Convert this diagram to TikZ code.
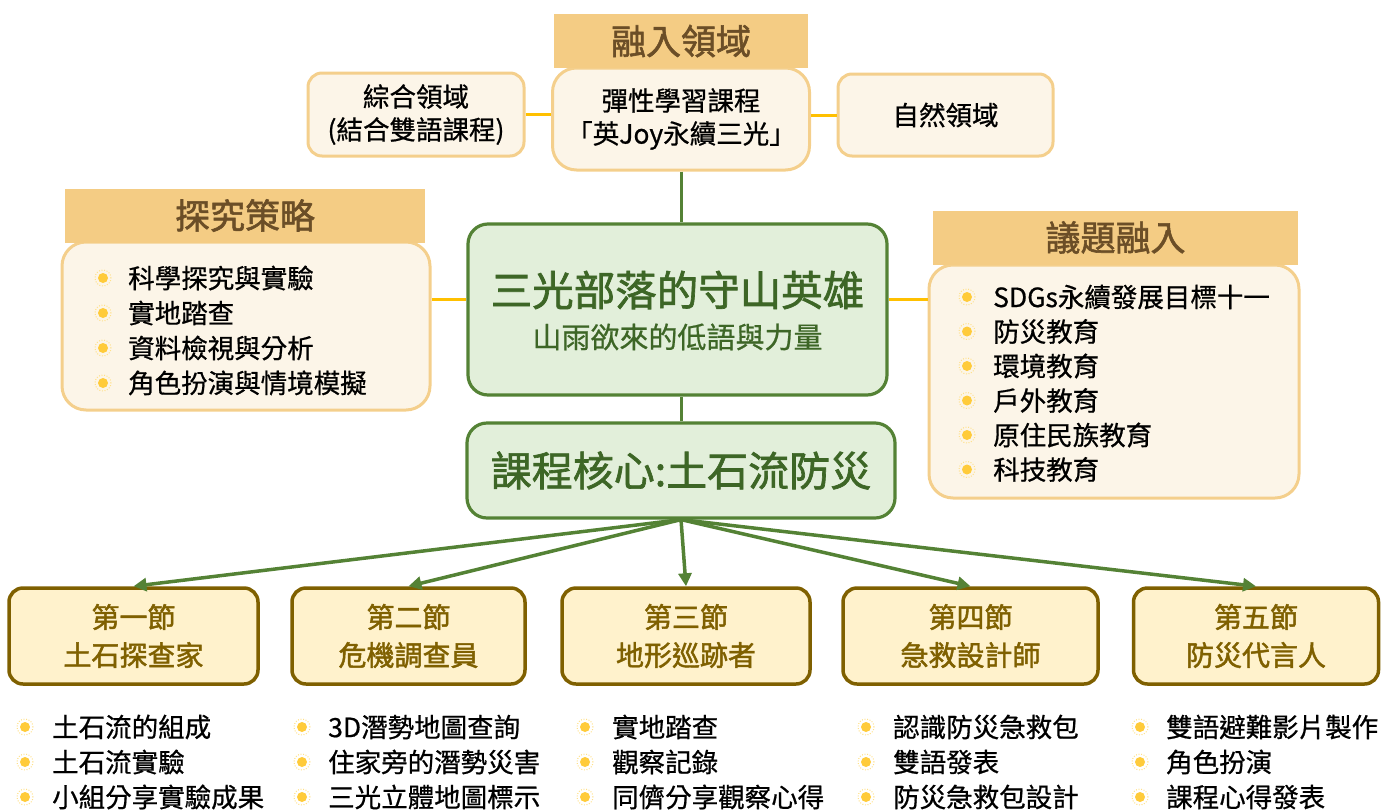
\documentclass[tikz,border=0pt]{standalone}
\usepackage{fontspec}
\setmainfont{Noto Sans CJK TC}[FakeBold=0.7, BoldFont=Noto Sans CJK TC, BoldFeatures={FakeBold=1.6}]
\usetikzlibrary{arrows.meta,positioning}

\definecolor{headfill}{HTML}{F4CC84}
\definecolor{headtext}{HTML}{6B4E27}
\definecolor{paperfill}{HTML}{FCF5E8}
\definecolor{paperline}{HTML}{F4CF8C}
\definecolor{leaffill}{HTML}{E2EFDA}
\definecolor{leafline}{HTML}{548235}
\definecolor{leaftext}{HTML}{3D6626}
\definecolor{lessonfill}{HTML}{FFF2CC}
\definecolor{lessonline}{HTML}{7F6000}
\definecolor{linkgold}{HTML}{FFC000}
\definecolor{sunny}{HTML}{FFCB3A}

\tikzset{
  headbox/.style={fill=headfill, text=headtext, inner sep=0pt, minimum height=54pt, font=\fontsize{35}{40}\selectfont\bfseries},
  paperbox/.style={draw=paperline, fill=paperfill, line width=3pt, rounded corners=14pt, inner sep=0pt, align=center, font=\fontsize{26.5}{33}\selectfont},
  leafbox/.style={draw=leafline, fill=leaffill, line width=3.2pt, rounded corners=20pt, inner sep=0pt, text=leaftext},
  lessonbox/.style={draw=lessonline, fill=lessonfill, line width=3.5pt, rounded corners=14pt, inner sep=0pt, minimum height=96pt, align=center, text=lessonline, font=\fontsize{28}{38}\selectfont\bfseries},
  itemtext/.style={anchor=west, inner sep=0pt, font=\fontsize{26.5}{30}\selectfont},
  goldlink/.style={draw=linkgold, line width=3pt},
  greenlink/.style={draw=leafline, line width=3pt},
  greenarrow/.style={draw=leafline, line width=3.5pt, -{Triangle[length=13pt,width=13pt]}},
}

\begin{document}
\begin{tikzpicture}[x=1pt,y=-1pt]
	\useasboundingbox (0,0) rectangle (1381,809);

	% top row
	\node[paperbox, rounded corners=24pt, minimum width=257pt, minimum height=102pt] (fusebody) at (681,119) {彈性學習課程\\「英Joy永續三光」};
	\node[headbox, minimum width=254pt] (fusehead) at (681,41) {融入領域};
	\node[paperbox, minimum width=216pt, minimum height=83pt] (mixbox) at (416,114.5) {綜合領域\\(結合雙語課程)};
	\node[paperbox, minimum width=215pt, minimum height=82pt] (naturebox) at (945.5,115) {自然領域};

	% side boxes
	\node[paperbox, rounded corners=24pt, minimum width=368pt, minimum height=168pt] (stratbody) at (246,326) {};
	\node[headbox, minimum width=360pt] (strathead) at (245,215.5) {探究策略};
	\node[paperbox, rounded corners=24pt, minimum width=370pt, minimum height=233pt] (issuebody) at (1114,381.5) {};
	\node[headbox, minimum width=365pt] (issuehead) at (1115.5,237.5) {議題融入};

	\foreach \txt [count=\i from 0] in {科學探究與實驗,實地踏查,資料檢視與分析,角色扮演與情境模擬} {
		\fill[sunny] (103,278+35*\i) circle (5pt);
		\draw[sunny!60, line width=1pt, dash pattern=on 1pt off 1.6pt] (103,278+35*\i) circle (8pt);
		\node[itemtext] (strat\i) at (128,278+35*\i) {\txt};
	}
	\foreach \txt [count=\i from 0] in {SDGs永續發展目標十一,防災教育,環境教育,戶外教育,原住民族教育,科技教育} {
		\fill[sunny] (967,297+34.5*\i) circle (5pt);
		\draw[sunny!60, line width=1pt, dash pattern=on 1pt off 1.6pt] (967,297+34.5*\i) circle (8pt);
		\node[itemtext] (issue\i) at (993,297+34.5*\i) {\txt};
	}

	% centre
	\node[leafbox, minimum width=419pt, minimum height=171pt] (hero) at (677.5,309.5) {};
	\node[text=leaftext, inner sep=0pt, font=\fontsize{41.5}{46}\selectfont\bfseries] (herotitle) at (677.5,290) {三光部落的守山英雄};
	\node[text=leaftext, inner sep=0pt, font=\fontsize{29}{34}\selectfont] (herosub) at (677.5,337) {山雨欲來的低語與力量};
	\node[leafbox, minimum width=428pt, minimum height=95pt, font=\fontsize{41}{46}\selectfont\bfseries] (core) at (681,470.5) {課程核心:土石流防災};

	\draw[goldlink] (mixbox.east) -- (fusebody.west |- mixbox.east);
	\draw[goldlink] (fusebody.east |- naturebox.west) -- (naturebox.west);
	\draw[goldlink] (stratbody.east |- 0,299) -- (hero.west |- 0,299);
	\draw[goldlink] (hero.east |- 0,299) -- (issuebody.west |- 0,299);
	\draw[greenlink] (fusebody.south) -- (fusebody.south |- hero.north);
	\draw[greenlink] (core.north) -- (core.north |- hero.south);

	% lessons
	\node[lessonbox, minimum width=249pt] (sec1) at (133.5,636) {第一節\\土石探查家};
	\node[lessonbox, minimum width=233pt] (sec2) at (408.5,636) {第二節\\危機調查員};
	\node[lessonbox, minimum width=248pt] (sec3) at (686,636) {第三節\\地形巡跡者};
	\node[lessonbox, minimum width=255pt] (sec4) at (970.5,636) {第四節\\急救設計師};
	\node[lessonbox, minimum width=245pt] (sec5) at (1256,636) {第五節\\防災代言人};

	\foreach \n in {1,...,5}
		\draw[greenarrow] (core.south) -- (sec\n.north);

	% lesson items
	\foreach \txt [count=\i from 0] in {土石流的組成,土石流實驗,小組分享實驗成果} {
		\fill[sunny] (25,727+35*\i) circle (5pt);
		\draw[sunny!60, line width=1pt, dash pattern=on 1pt off 1.6pt] (25,727+35*\i) circle (8pt);
		\node[itemtext] (one\i) at (52,727+35*\i) {\txt};
	}
	\foreach \txt [count=\i from 0] in {3D潛勢地圖查詢,住家旁的潛勢災害,三光立體地圖標示} {
		\fill[sunny] (302,727+35*\i) circle (5pt);
		\draw[sunny!60, line width=1pt, dash pattern=on 1pt off 1.6pt] (302,727+35*\i) circle (8pt);
		\node[itemtext] (two\i) at (328,727+35*\i) {\txt};
	}
	\foreach \txt [count=\i from 0] in {實地踏查,觀察記錄,同儕分享觀察心得} {
		\fill[sunny] (585,727+35*\i) circle (5pt);
		\draw[sunny!60, line width=1pt, dash pattern=on 1pt off 1.6pt] (585,727+35*\i) circle (8pt);
		\node[itemtext] (three\i) at (612,727+35*\i) {\txt};
	}
	\foreach \txt [count=\i from 0] in {認識防災急救包,雙語發表,防災急救包設計} {
		\fill[sunny] (866,727+35*\i) circle (5pt);
		\draw[sunny!60, line width=1pt, dash pattern=on 1pt off 1.6pt] (866,727+35*\i) circle (8pt);
		\node[itemtext] (four\i) at (893,727+35*\i) {\txt};
	}
	\foreach \txt [count=\i from 0] in {雙語避難影片製作,角色扮演,課程心得發表} {
		\fill[sunny] (1140,727+35*\i) circle (5pt);
		\draw[sunny!60, line width=1pt, dash pattern=on 1pt off 1.6pt] (1140,727+35*\i) circle (8pt);
		\node[itemtext] (five\i) at (1166,727+35*\i) {\txt};
	}
\end{tikzpicture}
\end{document}
